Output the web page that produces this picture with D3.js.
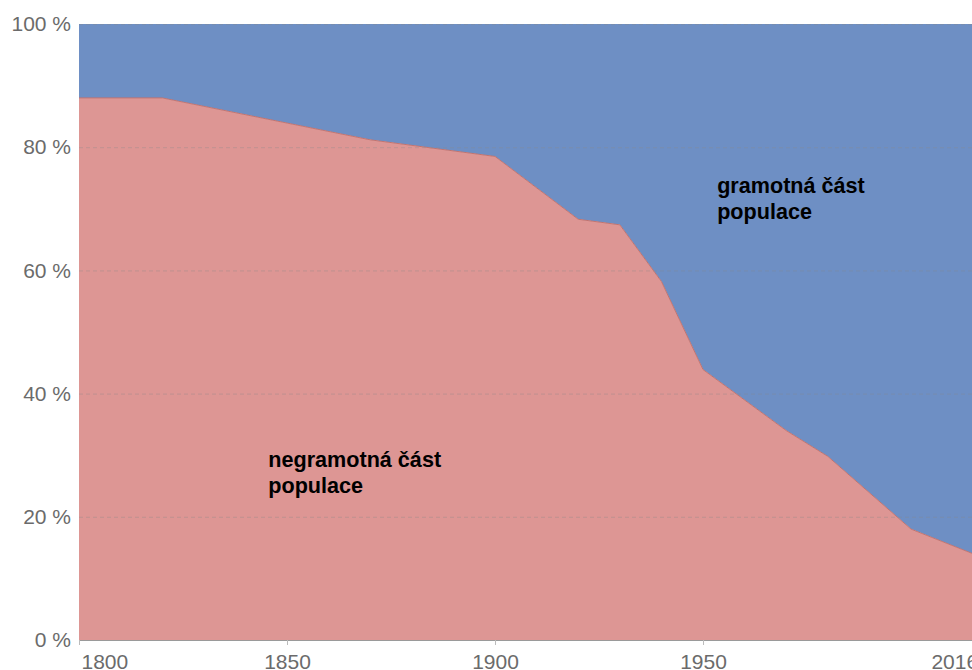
<!DOCTYPE html>
<html lang="cs">
	<head>
		<meta charset="utf-8">
		<title>Gramotnost</title>
		<script type="text/javascript" src="https://d3js.org/d3.v7.min.js"></script>
		<style type="text/css">
			body { margin: 0; background: #fff; }
			svg { display: block; font-family: "Liberation Sans", Arial, sans-serif; }
			.tick text { fill: #6b6b6b; font-size: 21px; }
			.label { font-weight: bold; font-size: 21.6px; fill: #000; }
		</style>
	</head>
	<body>
		<script type="text/javascript">

			// data
			var years = [1800, 1820, 1870, 1900, 1920, 1930, 1940, 1950, 1970, 1980, 2000, 2016];
			var illiterate = [88, 88, 81.2, 78.5, 68.3, 67.4, 58.2, 43.9, 34.0, 29.8, 18.0, 13.7];
			var literate = illiterate.map(function(v) { return 100 - v; });
			var xTicks = [1800, 1850, 1900, 1950, 2016];
			var yTicks = [0, 20, 40, 60, 80, 100];

			//Width and height
			var w = 972;
			var h = 670;
			var mLeft = 79, mRight = 977.6, mTop = 24, mBottom = 640;

			var rows = years.map(function(y, i) {
				return { year: y, ill: illiterate[i], lit: literate[i] };
			});

			var x = d3.scaleLinear().domain([1800, 2016]).range([mLeft, mRight]);
			var y = d3.scaleLinear().domain([0, 100]).range([mBottom, mTop]);

			var svg = d3.select("body")
						.append("svg")
						.attr("width", w)
						.attr("height", h);

			// blue = literate on top
			var areaLit = d3.area()
				.x(function(d) { return x(d.year); })
				.y0(function(d) { return y(d.ill); })
				.y1(function(d) { return y(d.ill + d.lit); });

			var areaIll = d3.area()
				.x(function(d) { return x(d.year); })
				.y0(y(0))
				.y1(function(d) { return y(d.ill); });

			svg.append("path")
			   .datum(rows)
			   .attr("d", areaLit)
			   .style("fill", "#6e8fc4");

			svg.append("path")
			   .datum(rows)
			   .attr("d", areaIll)
			   .style("fill", "#dd9694");

			svg.append("path")
			   .datum(rows)
			   .attr("d", d3.line()
			   		.x(function(d) { return x(d.year); })
			   		.y(function(d) { return y(d.ill); }))
			   .style("fill", "none")
			   .style("stroke", "#c07471")
			   .style("stroke-width", 1);

			// dashed grid lines
			svg.append("g")
			   .selectAll("line")
			   .data(yTicks.filter(function(t) { return t > 0; }))
			   .enter()
			   .append("line")
			   .attr("x1", mLeft)
			   .attr("x2", mRight)
			   .attr("y1", function(d) { return y(d) + 0.5; })
			   .attr("y2", function(d) { return y(d) + 0.5; })
			   .style("stroke", "#8a8a8a")
			   .style("stroke-opacity", 0.35)
			   .style("stroke-dasharray", "4,3");

			// y axis
			var yAxis = svg.append("g")
				.attr("transform", "translate(" + (mLeft - 8) + ",0)")
				.call(d3.axisLeft(y).tickValues(yTicks).tickSize(0)
					.tickFormat(function(d) { return d + " %"; }));
			yAxis.select(".domain").remove();
			yAxis.selectAll(".tick text").attr("x", 0);

			// x axis
			var xAxis = svg.append("g")
				.attr("transform", "translate(0," + mBottom + ")")
				.call(d3.axisBottom(x).tickValues(xTicks).tickSize(5).tickSizeOuter(0)
					.tickFormat(d3.format("d")));
			xAxis.select(".domain").style("stroke", "#9a9a9a");
			xAxis.selectAll(".tick line").style("stroke", "#bbbbbb");
			xAxis.selectAll(".tick text")
				.attr("y", 14)
				.attr("dy", "0.71em")
				.attr("text-anchor", function(d, i) {
					return i == 0 ? "start" : (i == xTicks.length - 1 ? "end" : "middle");
				})
				.attr("dx", function(d, i) { return i == 0 ? 2 : 0; });

			// labels
			var labels = [
				{ lines: ["gramotná část", "populace"], year: 1953.4, val: 72.6 },
				{ lines: ["negramotná část", "populace"], year: 1845.5, val: 28.1 }
			];
			labels.forEach(function(l) {
				var t = svg.append("text")
					.attr("class", "label")
					.attr("x", x(l.year))
					.attr("y", y(l.val));
				l.lines.forEach(function(s, i) {
					t.append("tspan")
					 .attr("x", x(l.year))
					 .attr("dy", i == 0 ? 0 : 26)
					 .text(s);
				});
			});
		</script>
	</body>
</html>
